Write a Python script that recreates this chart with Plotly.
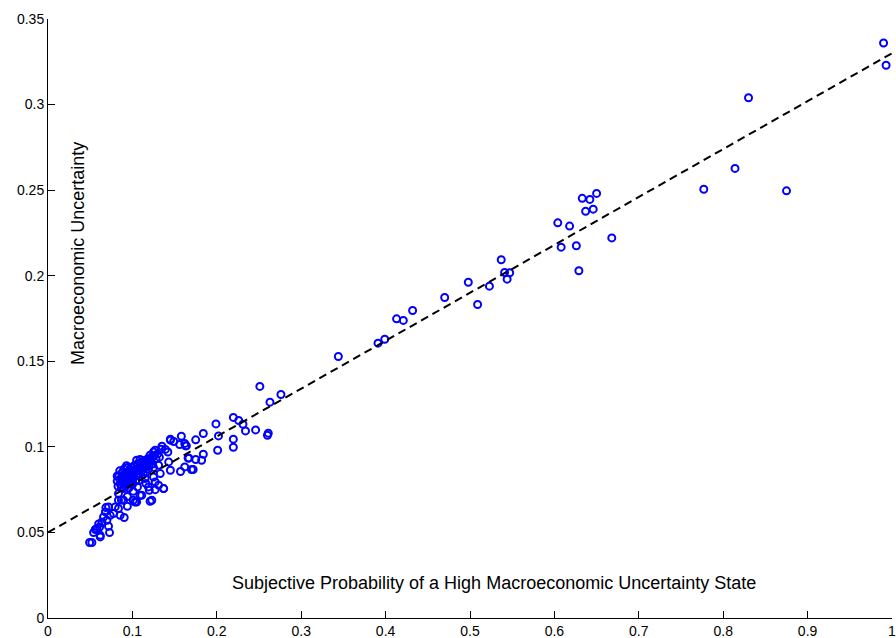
import plotly.graph_objects as go

# Subjective probability of the high-uncertainty state (x) vs. macro uncertainty (y)
prob = [
    0.990, 0.993, 0.830, 0.777, 0.814, 0.875,
    0.650, 0.633, 0.642, 0.646, 0.637, 0.604, 0.618, 0.668, 0.626, 0.608, 0.629,
    0.537, 0.541, 0.547, 0.544, 0.523, 0.498, 0.509, 0.470,
    0.432, 0.413, 0.421, 0.399, 0.391, 0.344,
    0.276, 0.251, 0.263, 0.2196, 0.226, 0.231, 0.234, 0.246, 0.261, 0.260,
    0.199, 0.202, 0.201, 0.2196, 0.2196, 0.184, 0.175, 0.184, 0.167, 0.175, 0.182,
    0.158, 0.162, 0.170, 0.157, 0.163, 0.162, 0.145, 0.149, 0.135, 0.139, 0.142,
    0.125, 0.121, 0.143, 0.145, 0.131, 0.133, 0.125, 0.127, 0.137, 0.120, 0.127,
    0.123, 0.115, 0.116, 0.108, 0.106, 0.109, 0.101, 0.105,
    0.105, 0.109, 0.113, 0.117, 0.127, 0.134,
    0.0895, 0.0835, 0.0835, 0.0895, 0.094, 0.0717, 0.0686, 0.0796, 0.0835,
    0.0855, 0.0903, 0.0776, 0.0737, 0.0658, 0.0698, 0.0639, 0.0717, 0.0611,
    0.0560, 0.0600, 0.0540, 0.0619, 0.0729, 0.0619, 0.0493, 0.0520, 0.0580, 0.0680,
    0.082, 0.084, 0.085, 0.086, 0.088, 0.088, 0.090, 0.090, 0.091, 0.093,
    0.094, 0.095, 0.096, 0.097, 0.098, 0.099, 0.100, 0.101, 0.102, 0.103,
    0.104, 0.106, 0.107, 0.108, 0.110, 0.111, 0.112, 0.114, 0.115, 0.117,
    0.118, 0.120, 0.121, 0.123, 0.124, 0.126, 0.128, 0.130, 0.132, 0.083,
    0.087, 0.092, 0.096, 0.100, 0.104, 0.082, 0.085,
    0.145, 0.156, 0.164, 0.166, 0.172, 0.131, 0.137, 0.119, 0.111, 0.121, 0.103,
    0.089, 0.092, 0.098, 0.113, 0.116, 0.119, 0.125, 0.087, 0.094, 0.101,
    0.093, 0.097, 0.102, 0.106, 0.110, 0.114, 0.118, 0.122, 0.099, 0.105,
]
uncert = [
    0.336, 0.323, 0.304, 0.2505, 0.2627, 0.2496,
    0.2481, 0.2452, 0.2446, 0.2389, 0.2376, 0.2309, 0.2290, 0.2221, 0.2175, 0.2167, 0.2029,
    0.2093, 0.2019, 0.2017, 0.1980, 0.1939, 0.1962, 0.1832, 0.1873,
    0.1797, 0.1748, 0.1739, 0.1629, 0.1606, 0.1528,
    0.1306, 0.1353, 0.1261, 0.1172, 0.1154, 0.1132, 0.1093, 0.1099, 0.1080, 0.1068,
    0.1134, 0.1064, 0.0980, 0.1045, 0.0998, 0.1078, 0.1041, 0.0957, 0.0934, 0.0926, 0.0922,
    0.1062, 0.0883, 0.0868, 0.0856, 0.1006, 0.1020, 0.1039, 0.1031, 0.1004, 0.0985, 0.0970,
    0.0970, 0.0951, 0.0912, 0.0863, 0.0893, 0.0844, 0.0824, 0.0795, 0.0756, 0.0746, 0.0750,
    0.0688, 0.0815, 0.0786, 0.0805, 0.0766, 0.0717, 0.0688, 0.0678,
    0.0922, 0.0926, 0.0918, 0.0922, 0.0980, 0.0986,
    0.0756, 0.0727, 0.0688, 0.0688, 0.0653, 0.0649, 0.0645, 0.0649, 0.0640,
    0.0600, 0.0587, 0.0610, 0.0600, 0.0590, 0.0571, 0.0561, 0.0536, 0.0532,
    0.0517, 0.0549, 0.0499, 0.0483, 0.0499, 0.0474, 0.0441, 0.0441, 0.0520, 0.0620,
    0.080, 0.083, 0.086, 0.078, 0.081, 0.085, 0.087, 0.083, 0.079, 0.085,
    0.088, 0.082, 0.086, 0.079, 0.084, 0.088, 0.086, 0.082, 0.089, 0.085,
    0.087, 0.090, 0.084, 0.088, 0.091, 0.086, 0.089, 0.092, 0.088, 0.090,
    0.093, 0.089, 0.092, 0.094, 0.090, 0.095, 0.093, 0.096, 0.094, 0.077,
    0.076, 0.077, 0.076, 0.078, 0.080, 0.083, 0.081,
    0.1045, 0.1014, 0.1006, 0.0935, 0.0868, 0.0776, 0.0756, 0.0766, 0.0717, 0.0682, 0.0678,
    0.0820, 0.0800, 0.0810, 0.0840, 0.0850, 0.0870, 0.0880, 0.0690, 0.0710, 0.0740,
    0.0890, 0.0870, 0.0840, 0.0860, 0.0870, 0.0900, 0.0910, 0.0920, 0.0810, 0.0830,
]

# Fitted line endpoints
fit_x = [0.0, 1.0]
fit_y = [0.05, 0.33]

x_ticks = [0, 0.1, 0.2, 0.3, 0.4, 0.5, 0.6, 0.7, 0.8, 0.9, 1]
x_ticktext = ["0", "0.1", "0.2", "0.3", "0.4", "0.5", "0.6", "0.7", "0.8", "0.9", "1"]
y_ticks = [0, 0.05, 0.1, 0.15, 0.2, 0.25, 0.3, 0.35]
y_ticktext = ["0", "0.05", "0.1", "0.15", "0.2", "0.25", "0.3", "0.35"]

FONT = "Arial, Liberation Sans, Helvetica, sans-serif"

fig = go.Figure()
fig.add_trace(go.Scatter(
    x=prob, y=uncert, mode="markers",
    marker=dict(symbol="circle-open", size=7, color="#0000ff",
                line=dict(width=2, color="#0000ff")),
    cliponaxis=False, showlegend=False,
))
fig.add_trace(go.Scatter(
    x=fit_x, y=fit_y, mode="lines",
    line=dict(color="black", width=2, dash="8px,5px"),
    showlegend=False,
))

axis_common = dict(
    showgrid=False, zeroline=False, showline=True, linecolor="black", linewidth=1,
    ticks="inside", ticklen=7, tickcolor="black", tickwidth=1,
    tickfont=dict(family=FONT, size=14, color="black"), automargin=False,
    ticklabeloverflow="allow",
)
fig.update_xaxes(range=[0, 1], tickvals=x_ticks, ticktext=x_ticktext, **axis_common)
fig.update_yaxes(range=[0, 0.35], tickvals=y_ticks, ticktext=y_ticktext, **axis_common)

fig.add_annotation(
    text="Subjective Probability of a High Macroeconomic Uncertainty State",
    x=0.2157, y=0.0203, xref="x", yref="y", xanchor="left", yanchor="middle",
    showarrow=False, font=dict(family=FONT, size=18, color="black"),
)
fig.add_annotation(
    text="Macroeconomic Uncertainty", textangle=-90,
    x=0.0347, y=0.1466, xref="x", yref="y", xanchor="center", yanchor="bottom",
    showarrow=False, font=dict(family=FONT, size=18, color="black"),
)

fig.update_layout(
    width=896, height=638,
    margin=dict(l=47.7, r=4, t=19, b=20.3),
    paper_bgcolor="white", plot_bgcolor="white",
)

fig.write_html("out.html")
